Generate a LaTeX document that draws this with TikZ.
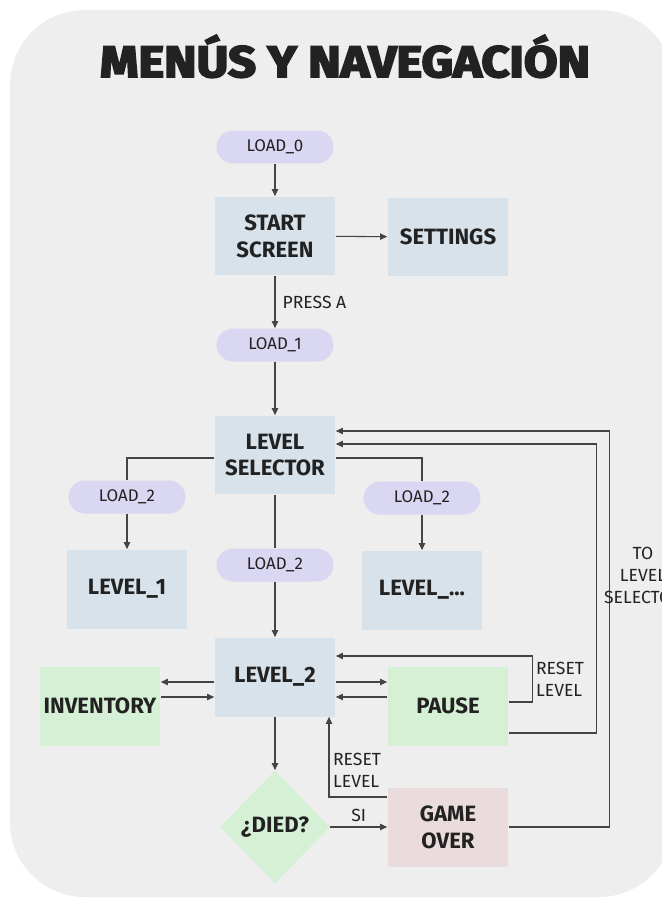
\documentclass[tikz,border=0pt]{standalone}
\usepackage{fontspec}
\setmainfont{Fira Sans}
\newfontfamily\titlefont[FakeBold=4]{Fira Sans}
\usetikzlibrary{arrows.meta, shapes.geometric}

\definecolor{bgcol}{HTML}{EEEEEE}
\definecolor{loadcol}{HTML}{D9D7F2}
\definecolor{boxcol}{HTML}{D7E2EA}
\definecolor{menucol}{HTML}{D6F0D6}
\definecolor{overcol}{HTML}{EADCDC}
\definecolor{inkcol}{HTML}{222222}
\definecolor{linecol}{HTML}{444444}

\begin{document}
\begin{tikzpicture}[x=0.02cm, y=-0.02cm,
    every node/.style={text=inkcol},
    load/.style={fill=loadcol, rounded corners=0.33cm, minimum width=2.34cm,
        minimum height=0.66cm, inner sep=0pt, font=\fontsize{9.6}{11}\selectfont},
    screen/.style={fill=boxcol, minimum width=2.42cm, minimum height=1.58cm,
        inner sep=0pt, align=center, font=\fontsize{12.6}{15.3}\selectfont\bfseries},
    menu/.style={screen, fill=menucol},
    over/.style={screen, fill=overcol},
    decision/.style={diamond, fill=menucol, minimum width=2.2cm, minimum height=2.26cm,
        inner sep=0pt, font=\fontsize{12.6}{15.3}\selectfont\bfseries},
    lbl/.style={align=left, inner sep=1pt, font=\fontsize{10}{12.5}\selectfont},
    link/.style={draw=linecol, semithick},
    arr/.style={link, -{Triangle[length=4pt, width=3.6pt]}}
    ]
    \clip (0,0) rectangle (662,899);
    \fill[white] (0,0) rectangle (662,899);
    \fill[bgcol, rounded corners=1.5cm] (10,10) rectangle (674,897);

    \node[anchor=base, inner sep=0pt] (title) at (345,77)
        {\resizebox{9.8cm}{0.84cm}{\titlefont\bfseries MENÚS Y NAVEGACIÓN}};

    % flow
    \node[load] (load0) at (275,147) {LOAD\_0};
    \node[screen] (start) at (275,236) {START\\SCREEN};
    \node[screen] (settings) at (448,237) {SETTINGS};
    \node[load] (load1) at (275,345) {LOAD\_1};
    \node[screen] (lsel) at (275,455) {LEVEL\\SELECTOR};
    \node[load] (load2a) at (127,497) {LOAD\_2};
    \node[load] (load2b) at (275,565) {LOAD\_2};
    \node[load] (load2c) at (422,498) {LOAD\_2};
    \node[screen] (lvl1) at (127,589) {LEVEL\_1};
    \node[screen] (lvlx) at (422,590) {LEVEL\_...};
    \node[screen] (lvl2) at (275,677) {LEVEL\_2};
    \node[menu] (inv) at (100,706) {INVENTORY};
    \node[menu] (pause) at (448,706) {PAUSE};
    \node[decision] (died) at (275,827) {¿DIED?};
    \node[over] (gover) at (448,827) {GAME\\OVER};

    \draw[arr] (load0) -- (start);
    \draw[arr] (start) -- (settings);
    \draw[arr] (start) -- node[lbl, right=3pt] {PRESS A} (load1);
    \draw[arr] (load1) -- (lsel);
    \draw[link] (lsel.west |- 0,458) -| (load2a);
    \draw[link] (lsel.east |- 0,458) -| (load2c);
    \draw[link] (lsel) -- (load2b);
    \draw[arr] (load2a) -- (lvl1);
    \draw[arr] (load2c) -- (lvlx);
    \draw[arr] (load2b) -- (lvl2);

    \draw[arr] (lvl2.west |- 0,682) -- (inv.east |- 0,682);
    \draw[arr] (inv.east |- 0,697) -- (lvl2.west |- 0,697);
    \draw[arr] (lvl2.east |- 0,682) -- (pause.west |- 0,682);
    \draw[arr] (pause.west |- 0,697) -- (lvl2.east |- 0,697);
    \draw[arr] (lvl2) -- (died);
    \draw[arr] (died) -- node[lbl, above=2pt] {SI} (gover);

    % way back
    \draw[arr] (pause.east |- 0,702) -- ++(24,0) |- (lvl2.east |- 0,656);
    \draw[arr] (gover.west |- 0,797) -| (lvl2.south -| 329,0);
    \draw[arr] (pause.east |- 0,733) -- ++(88,0) |- (lsel.east |- 0,444);
    \draw[arr] (gover.east) -- ++(101,0) |- (lsel.east |- 0,431);

    \node[lbl, anchor=west] (rstp) at (534,679) {RESET\\LEVEL};
    \node[lbl, anchor=west] (rstg) at (331,770) {RESET\\LEVEL};
    \node[lbl, align=center] (tosel) at (643,575) {TO\\LEVEL\\SELECTOR};
\end{tikzpicture}
\end{document}
